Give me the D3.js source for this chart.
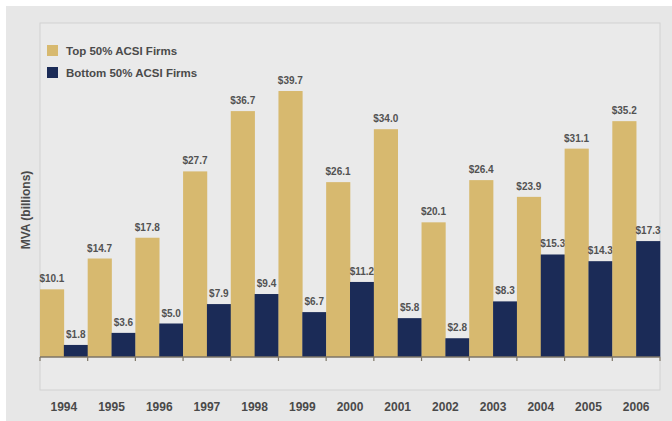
<!DOCTYPE html>
<html><head><meta charset="utf-8">
<script src="https://cdn.jsdelivr.net/npm/d3@7"></script>
<style>
html,body{margin:0;padding:0;background:#fff;}
svg{display:block;font-family:"Liberation Sans",Arial,sans-serif;}
</style></head>
<body>
<svg id="c" width="672" height="421"></svg>
<script>
const years = ["1994","1995","1996","1997","1998","1999","2000","2001","2002","2003","2004","2005","2006"];
const topValues = [10.1,14.7,17.8,27.7,36.7,39.7,26.1,34.0,20.1,26.4,23.9,31.1,35.2];
const bottomValues = [1.8,3.6,5.0,7.9,9.4,6.7,11.2,5.8,2.8,8.3,15.3,14.3,17.3];
const seriesNames = ["Top 50% ACSI Firms","Bottom 50% ACSI Firms"];
const seriesColors = ["#d7b96f","#1b2b57"];

const svg = d3.select("#c");
// backgrounds
svg.append("rect").attr("x",6).attr("y",6).attr("width",666).attr("height",415).attr("fill","#e7e7e7");
const px0 = 40, px1 = 660, py0 = 23, py1 = 390, base = 357;
svg.append("rect").attr("x",px0).attr("y",py0).attr("width",px1-px0).attr("height",py1-py0)
  .attr("fill","#eaeaea").attr("stroke","#d2d2d2").attr("stroke-width",1);

const x = d3.scaleBand().domain(years).range([px0,px1]).padding(0);
const xs = d3.scaleBand().domain([0,1]).range([0,x.bandwidth()]).padding(0);
const y = d3.scaleLinear().domain([0,40]).range([base, base-40*6.7]);

const data = years.map((yr,i)=>({yr, vals:[topValues[i],bottomValues[i]]}));
const g = svg.append("g");
data.forEach(d=>{
  d.vals.forEach((v,s)=>{
    g.append("rect").attr("x",x(d.yr)+xs(s)).attr("y",y(v))
      .attr("width",xs.bandwidth()+0.3).attr("height",y(0)-y(v)).attr("fill",seriesColors[s]);
    g.append("text").attr("x",x(d.yr)+xs(s)+xs.bandwidth()/2).attr("y",y(v)-7)
      .attr("text-anchor","middle").attr("font-size",10).attr("font-weight","bold")
      .attr("fill","#525252").text("$"+v.toFixed(1));
  });
});

// baseline & ticks
svg.append("line").attr("x1",px0).attr("x2",px1).attr("y1",base).attr("y2",base)
  .attr("stroke","#7d7566").attr("stroke-width",1.5);
const bounds = years.map(yv=>x(yv)).concat([px1]);
svg.selectAll(".tk").data(bounds).enter().append("line")
  .attr("x1",d=>d).attr("x2",d=>d).attr("y1",base).attr("y2",base+4)
  .attr("stroke","#7d7566").attr("stroke-width",1.2);

// year labels
svg.selectAll(".yl").data(years).enter().append("text")
  .attr("x",d=>x(d)+x.bandwidth()/2).attr("y",411).attr("text-anchor","middle")
  .attr("font-size",12).attr("font-weight","bold").attr("fill","#4a4a4a").text(d=>d);

// y title
svg.append("text").attr("transform","translate(30,210) rotate(-90)").attr("text-anchor","middle")
  .attr("font-size",12).attr("font-weight","bold").attr("fill","#4a4a4a").text("MVA (billions)");

// legend
seriesNames.forEach((n,i)=>{
  const ly = 45 + i*22;
  svg.append("rect").attr("x",47).attr("y",ly).attr("width",11).attr("height",11).attr("fill",seriesColors[i]);
  svg.append("text").attr("x",66).attr("y",ly+10).attr("font-size",11.5).attr("font-weight","bold")
    .attr("fill","#4a4a4a").text(n);
});
</script>
</body></html>
